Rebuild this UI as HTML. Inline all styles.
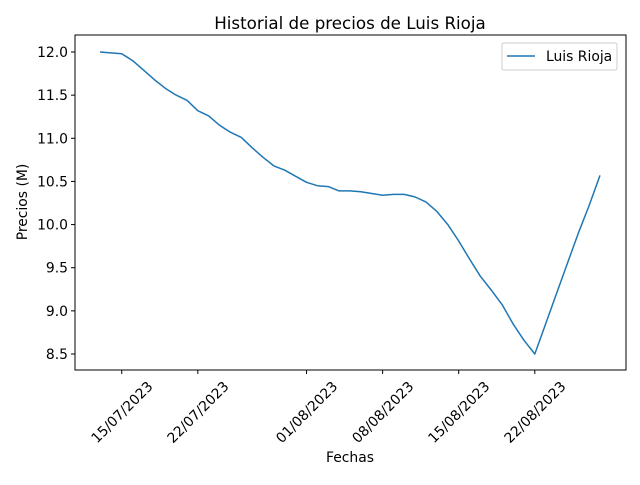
<!DOCTYPE html>
<html><head><meta charset="utf-8"><style>
body{margin:0;background:#fff}
svg text{font-family:"DejaVu Sans","Liberation Sans",sans-serif;fill:#000}
</style></head><body>
<svg id="chart" width="640" height="480" xmlns="http://www.w3.org/2000/svg">
<text x="350" y="29" font-size="16.7" text-anchor="middle">Historial de precios de Luis Rioja</text>
<text x="350" y="462" font-size="13.9" text-anchor="middle">Fechas</text>
<text transform="translate(27,202) rotate(-90)" font-size="13.9" text-anchor="middle">Precios (M)</text>
<g id="axes"></g>
<rect x="75" y="35" width="551" height="335" fill="none" stroke="#000" stroke-width="1"/>
<g>
<rect x="502" y="43" width="115" height="27" fill="#fff" stroke="#ccc" rx="2"/>
<line x1="507" y1="56" x2="535" y2="56" stroke="#1f77b4" stroke-width="1.5"/>
<text x="546" y="61" font-size="13.9">Luis Rioja</text>
</g>
</svg>
<script>
const days=[0,1,2,3,4,5,6,7,8,9,10,11,12,13,14,15,16,17,18,19,20,21,22,23,24,25,26,27,28,29,30,31,32,33,34,35,36,37,38,39,40,41,42,43,44,45,46];
const prices=[12.00,11.99,11.98,11.90,11.79,11.68,11.58,11.50,11.44,11.32,11.26,11.15,11.07,11.01,10.89,10.78,10.68,10.63,10.56,10.49,10.45,10.44,10.39,10.39,10.38,10.36,10.34,10.35,10.35,10.32,10.26,10.15,10.00,9.81,9.60,9.40,9.24,9.07,8.85,8.66,8.50,8.85,9.20,9.55,9.90,10.22,10.57];
const xTickDays=[2,9,19,26,33,40];
const xTickLabels=["15/07/2023","22/07/2023","01/08/2023","08/08/2023","15/08/2023","22/08/2023"];
const yTicks=[8.5,9.0,9.5,10.0,10.5,11.0,11.5,12.0];
const NS="http://www.w3.org/2000/svg";
const svg=document.getElementById('chart'),ax=document.getElementById('axes');
const X=d=>100+(d-0)*(500/46);
const Y=v=>52+(12-v)*(302/3.5);
function el(t,a,p){const e=document.createElementNS(NS,t);for(const k in a)e.setAttribute(k,a[k]);(p||ax).appendChild(e);return e;}
xTickDays.forEach((d,i)=>{
 const x=X(d);
 const t=el('line',{x1:x,y1:370,x2:x,y2:374,stroke:'#000'});
 
 
 const l=el('text',{x:x,y:417,'font-size':13.9,'text-anchor':'middle',transform:`rotate(-45 ${x} 412)`});
 l.textContent=xTickLabels[i];
 
 
});
yTicks.forEach(v=>{
 const y=Y(v);
 const t=el('line',{x1:71,y1:y,x2:75,y2:y,stroke:'#000'});
 
 
 const l=el('text',{x:68,y:y+5,'font-size':13.9,'text-anchor':'end'});
 l.textContent=v.toFixed(1);
 
 
});
const pts=days.map((d,i)=>X(d).toFixed(1)+','+Y(prices[i]).toFixed(1)).join(' ');
const pl=el('polyline',{points:pts,fill:'none',stroke:'#1f77b4','stroke-width':1.5,'stroke-linejoin':'round'});


</script>
</body></html>
